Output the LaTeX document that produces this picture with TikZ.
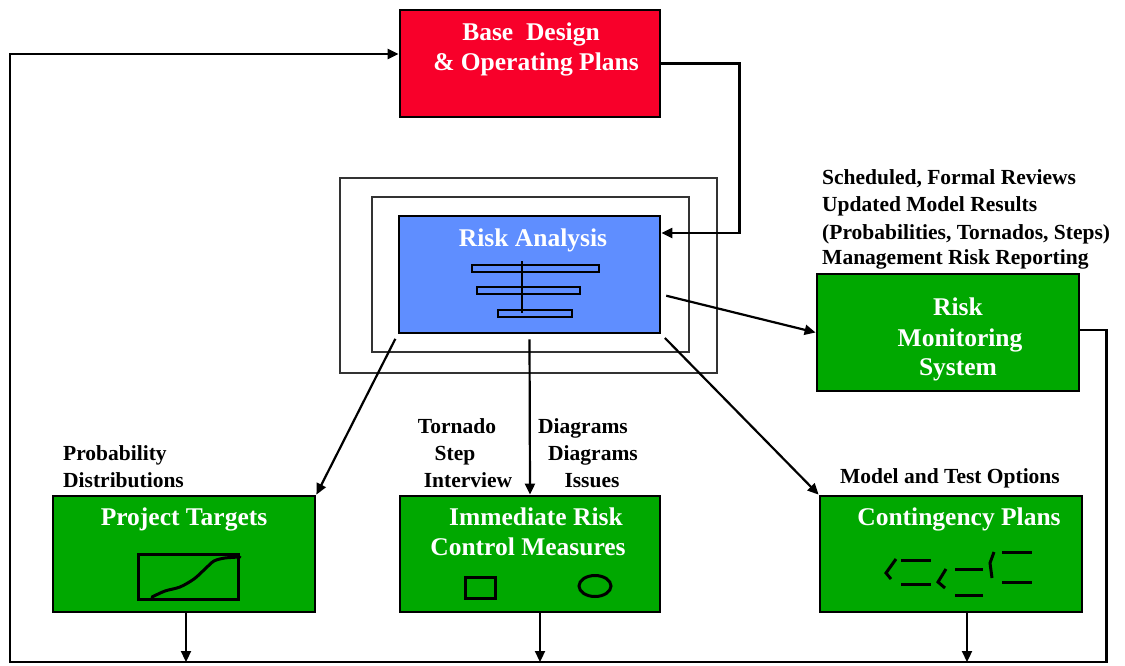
\documentclass[tikz,border=0pt]{standalone}
\usepackage{fontspec}
\setmainfont{Liberation Serif}
\usetikzlibrary{arrows.meta,calc}
\definecolor{boxred}{HTML}{F8002A}
\definecolor{boxblue}{HTML}{5F8EFF}
\definecolor{boxgreen}{HTML}{00A800}
\definecolor{framegray}{HTML}{333333}
\begin{document}
\begin{tikzpicture}[x=1pt,y=-1pt,
  box/.style={draw=black, line width=2.8pt, minimum width=#1, minimum height=116pt, inner sep=0pt},
  box/.default=261pt,
  title/.style={text=white, font=\fontsize{25.5}{30}\selectfont\bfseries, anchor=base, inner sep=0pt},
  lbl/.style={text=black, font=\fontsize{21.5}{27}\selectfont\bfseries, anchor=base, inner sep=0pt},
  lblw/.style={lbl, anchor=base west},
  arr/.style={draw=black, line width=2.2pt, -{Triangle[width=10pt,length=11pt]}},
  frame/.style={draw=framegray, line width=1.5pt},
  glyph/.style={draw=black, line width=3pt}
]
\useasboundingbox (0,0) rectangle (1125,665);
\fill[white] (0,0) rectangle (1125,665);

% frames around risk analysis
\draw[frame] (340,178) rectangle (717,373);
\draw[frame] (372,197) rectangle (689,352);

% boxes
\node[box=260pt, minimum height=107pt, fill=boxred] (base) at (530,63.5) {};
\node[box, minimum height=117pt, fill=boxblue] (ra) at (529.5,274.5) {};
\node[box=262pt, minimum height=117pt, fill=boxgreen] (rms) at (948,332.5) {};
\node[box=262pt, fill=boxgreen] (pt) at (184,554) {};
\node[box=260pt, fill=boxgreen] (imm) at (530,554) {};
\node[box=262pt, fill=boxgreen] (cp) at (951,554) {};

% titles
\node[title] (t1) at (531,40) {Base\ \ Design};
\node[title] (t2) at (536,70) {\& Operating Plans};
\node[title] (t3) at (533,246) {Risk Analysis};
\node[title] (t4) at (958,315) {Risk};
\node[title] (t5) at (960,346) {Monitoring};
\node[title] (t6) at (958,375) {System};
\node[title] (t7) at (184,525) {Project Targets};
\node[title] (t8) at (536,525) {Immediate Risk};
\node[title] (t9) at (528,555) {Control Measures};
\node[title] (t10) at (959,525) {Contingency Plans};

% labels
\node[lblw] (l1) at (822,184) {Scheduled, Formal Reviews};
\node[lblw] (l2) at (822,211) {Updated Model Results};
\node[lblw] (l3) at (822,239) {(Probabilities, Tornados, Steps)};
\node[lblw] (l4) at (822,264) {Management Risk Reporting};
\node[lblw] (l5) at (63,460) {Probability};
\node[lblw] (l6) at (63,487) {Distributions};
\node[lbl] (l7) at (457,433) {Tornado};
\node[lbl] (l8) at (455,460) {Step};
\node[lbl] (l9) at (468,487) {Interview};
\node[lbl] (l10) at (583,433) {Diagrams};
\node[lbl] (l11) at (593,460) {Diagrams};
\node[lbl] (l12) at (592,487) {Issues};
\node[lbl] (l13) at (950,483) {Model and Test Options};

% tornado glyph
\draw[glyph, line width=2.6pt] (472,265) rectangle (599,272);
\draw[glyph, line width=2.6pt] (477,287) rectangle (580,294);
\draw[glyph, line width=2.6pt] (498,310) rectangle (572,317);
\draw[glyph, line width=2.6pt] (522,261) -- (522,313);

% cumulative chart
\draw[glyph] (138,554) rectangle (238,599);
\draw[glyph, line cap=round] plot[smooth] coordinates {(152,597) (165,591) (180,587) (194,579) (205,569) (214,561) (225,558) (240,557)};

% square and ellipse
\draw[glyph] (465,577) rectangle (495,598);
\draw[glyph] (595,586) ellipse [x radius=16, y radius=10.5];

% contingency glyphs
\draw[glyph] (896,559) -- (886,573) -- (891,579);
\draw[glyph] (901,560) -- (931,560);
\draw[glyph] (901,584) -- (931,584);
\draw[glyph] (946,569) -- (938,582) -- (945,588);
\draw[glyph] (955,569) -- (983,569);
\draw[glyph] (955,595) -- (983,595);
\draw[glyph] (994,552) -- (990,563) -- (992,578);
\draw[glyph] (1002,552) -- (1032,552);
\draw[glyph] (1002,582) -- (1032,582);

% coordinates
\coordinate (bl) at (10,662);
\coordinate (pta) at ([xshift=2pt]pt.south);
\coordinate (imma) at ([xshift=10pt]imm.south);
\coordinate (cpa) at ([xshift=16pt]cp.south);

% connectors
\draw[arr] (base.east) -- ++(78,0) |- ([yshift=41.5pt]ra.east);
\draw[arr, shorten <=5pt] (ra.south west) -- (pt.north east);
\draw[arr, shorten <=5pt] (ra.south) -- (imm.north);
\draw[arr, shorten <=5pt] (ra.south east) -- (cp.north west);
\draw[arr, shorten <=5pt] ([yshift=-20pt]ra.east) -- (rms.west);
\draw[arr] ([yshift=2.5pt]rms.east) -- ++(26,0) |- (bl) |- ([yshift=9.5pt]base.west);
\draw[arr] (pta) -- (pta |- bl);
\draw[arr] (imma) -- (imma |- bl);
\draw[arr] (cpa) -- (cpa |- bl);
\end{tikzpicture}
\end{document}
